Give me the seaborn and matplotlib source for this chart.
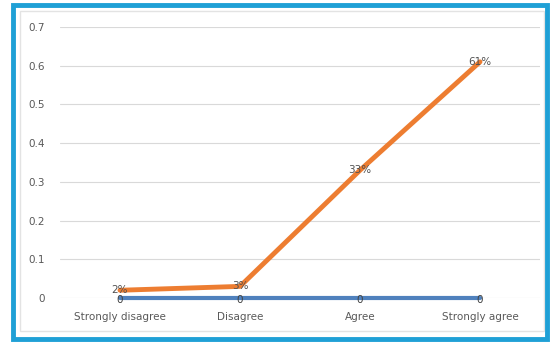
import matplotlib
matplotlib.use("Agg")
import matplotlib.pyplot as plt
import seaborn as sns
import pandas as pd
from matplotlib.patches import Rectangle

# datos del gráfico
categorias = ["Strongly disagree", "Disagree", "Agree", "Strongly agree"]
serie_pct = [0.02, 0.03, 0.33, 0.61]
serie_cero = [0, 0, 0, 0]
etiquetas_pct = ["2%", "3%", "33%", "61%"]
etiquetas_cero = ["0", "0", "0", "0"]
yticks = [0, 0.1, 0.2, 0.3, 0.4, 0.5, 0.6, 0.7]

sns.set_style("white")
plt.rcParams['font.family'] = ['DejaVu Sans']

df = pd.DataFrame({"categoria": categorias, "pct": serie_pct, "cero": serie_cero})

fig = plt.figure(figsize=(5.53, 3.45), dpi=100)
ax = fig.add_axes([60 / 553, 47 / 345, 480 / 553, 271 / 345])

sns.lineplot(data=df, x="categoria", y="cero", ax=ax, color="#4f81bd", linewidth=3, sort=False, clip_on=False)
sns.lineplot(data=df, x="categoria", y="pct", ax=ax, color="#ed7d31", linewidth=3.5, sort=False, clip_on=False)

for i, (v, t) in enumerate(zip(serie_pct, etiquetas_pct)):
    ax.text(i, v, t, ha="center", va="center", fontsize=7.5, color="#505050")
for i, (v, t) in enumerate(zip(serie_cero, etiquetas_cero)):
    ax.text(i, v - 0.005, t, ha="center", va="center", fontsize=7.5, color="#404040")

ax.set_xlim(-0.5, 3.5)
ax.set_ylim(0, 0.7)
ax.set_yticks(yticks)
ax.set_yticklabels(["0" if y == 0 else f"{y:.1f}" for y in yticks])
ax.grid(axis="y", color="#d9d9d9", linewidth=0.8)
ax.set_axisbelow(True)
for s in ax.spines.values():
    s.set_visible(False)
ax.tick_params(axis="both", length=0, labelsize=7.5, labelcolor="#595959")
ax.tick_params(axis="x", pad=10)
ax.tick_params(axis="y", pad=11)
ax.set_xlabel("")
ax.set_ylabel("")

# marco gris claro y borde azul
fig.patches.append(Rectangle((20 / 553, 14 / 345), 524 / 553, 320 / 345, transform=fig.transFigure,
                             fill=False, edgecolor="#e3e3e3", linewidth=1))
fig.patches.append(Rectangle((13 / 553, 6 / 345), 534 / 553, 334 / 345, transform=fig.transFigure,
                             fill=False, edgecolor="#1fa0d6", linewidth=3.5))

fig.savefig("out.png", dpi=100)
